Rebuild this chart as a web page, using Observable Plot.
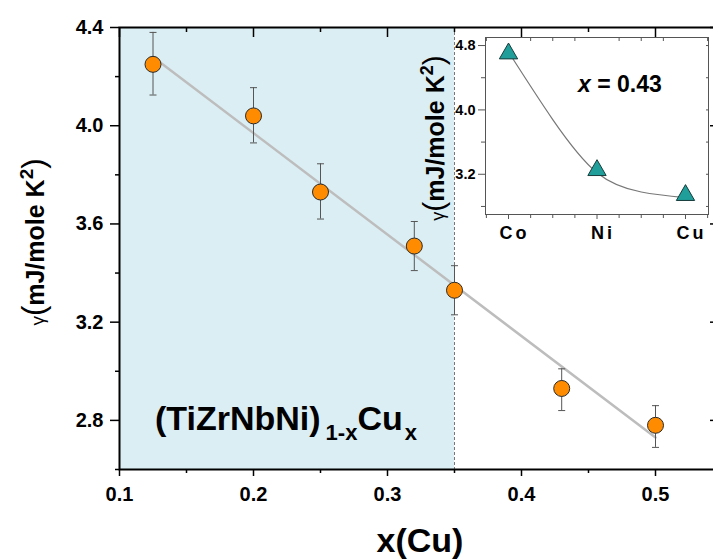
<!DOCTYPE html>
<html><head><meta charset="utf-8">
<script src="https://cdn.jsdelivr.net/npm/d3@7"></script>
<script src="https://cdn.jsdelivr.net/npm/@observablehq/plot@0.6"></script>
<style>
html,body{margin:0;padding:0;background:#fff;overflow:hidden;width:713px;height:560px}
#wrap{position:relative;width:713px;height:560px;overflow:hidden;font-family:"Liberation Sans",Arial,sans-serif}
#main,#inset{position:absolute}
#main{left:0;top:0}
#inset{left:440px;top:20px}
#wrap svg{max-width:none !important}
.lbl{position:absolute;font-weight:bold;white-space:nowrap;color:#000;line-height:1}
#inset g[aria-label="x-axis tick label"] text{letter-spacing:3px}
</style></head><body><div id="wrap"><div id="main"></div><div id="inset"></div>
<div class="lbl" id="ylab" style="left:33px;top:242px;transform:translate(-50%,-50%) rotate(-90deg);font-size:25px"><span style="font-weight:normal;font-size:19px">γ</span><span style="font-weight:normal;font-size:31px">(</span>mJ/mole K<sup style="font-size:19px;vertical-align:11px">2</sup><span style="font-weight:normal;font-size:31px">)</span></div>
<div class="lbl" id="ylab2" style="left:433px;top:138px;transform:translate(-50%,-50%) rotate(-90deg);font-size:25px"><span style="font-weight:normal;font-size:18px">γ</span><span style="font-weight:normal;font-size:30px">(</span>mJ/mole K<sup style="font-size:18px;vertical-align:11px">2</sup><span style="font-weight:normal;font-size:30px">)</span></div>
<div class="lbl" style="left:578px;top:73px;font-size:23px"><i>x</i> = 0.43</div>
<div class="lbl" style="left:155px;top:401px;font-size:34px">(TiZrNbNi)<sub style="font-size:22px;vertical-align:-10px;margin-left:5px">1-x</sub>Cu<sub style="font-size:22px;vertical-align:-10px;margin-left:2px">x</sub></div>
<div class="lbl" style="left:420px;top:523px;transform:translateX(-50%);font-size:34px">x(Cu)</div>
</div>
<script>
// main panel data
const xCu = [0.125, 0.2, 0.25, 0.32, 0.35, 0.43, 0.5];
const gamma = [4.25, 4.04, 3.73, 3.51, 3.33, 2.93, 2.78];
const errLo = [4.125, 3.93, 3.62, 3.41, 3.23, 2.84, 2.69];
const errHi = [4.38, 4.155, 3.845, 3.61, 3.43, 3.01, 2.86];
const fitX = [0.125, 0.5];
const fitY = [4.28, 2.73];
const shadeX = [0.1, 0.35];
const xTicks = [0.1, 0.2, 0.3, 0.4, 0.5];
const xMinor = [0.15, 0.25, 0.35, 0.45, 0.55];
const yTicks = [2.8, 3.2, 3.6, 4.0, 4.4];
const yMinor = [2.6, 3.0, 3.4, 3.8, 4.2];
// inset data
const insetCats = ["Co", "Ni", "Cu"];
const insetPos = [0, 1, 2];
const insetGamma = [4.70, 3.25, 2.94];
const insetCurveX = [0, 0.5, 1, 1.5, 2];
const insetCurveY = [4.72, 3.88, 3.22, 2.98, 2.91];
const insetYTicks = [3.2, 4.0, 4.8];
const insetYMinor = [2.8, 3.6, 4.4];
const insetXMinor = [-0.25, 0.25, 0.5, 0.75, 1.25, 1.5, 1.75, 2.25];

const pts = xCu.map((x, i) => ({x, g: gamma[i], lo: errLo[i], hi: errHi[i]}));
const fit = fitX.map((x, i) => ({x, y: fitY[i]}));
const capSymbol = {draw(ctx, size) { const w = Math.sqrt(size / Math.PI); ctx.moveTo(-w, 0); ctx.lineTo(w, 0); }};
const none = () => "";
const F = "Liberation Sans, Arial, sans-serif";

const main = Plot.plot({
  width: 730, height: 560,
  marginLeft: 119, marginRight: 8, marginTop: 27, marginBottom: 91,
  style: {fontFamily: F, background: "transparent", overflow: "visible", maxWidth: "none"},
  x: {domain: [0.1, 0.55]},
  y: {domain: [2.6, 4.4]},
  marks: [
    Plot.rect([shadeX], {x1: d => d[0], x2: d => d[1], fill: "#dbeef4"}),
    Plot.ruleX([shadeX[1]], {stroke: "#777", strokeDasharray: "3,2", strokeWidth: 1}),
    Plot.line(fit, {x: "x", y: "y", stroke: "#bdbdbd", strokeWidth: 2.5}),
    Plot.ruleX(pts, {x: "x", y1: "lo", y2: "hi", stroke: "#555", strokeWidth: 1}),
    Plot.dot(pts, {x: "x", y: "hi", symbol: capSymbol, r: 3.5, stroke: "#555", strokeWidth: 1}),
    Plot.dot(pts, {x: "x", y: "lo", symbol: capSymbol, r: 3.5, stroke: "#555", strokeWidth: 1}),
    Plot.dot(pts, {x: "x", y: "g", r: 8, fill: "#ff8c00", stroke: "#2a2a2a", strokeWidth: 1}),
    Plot.frame({stroke: "#000", strokeWidth: 2}),
    Plot.axisX(xTicks, {anchor: "bottom", tickSize: 7, tickFormat: none, label: null, strokeWidth: 1.5}),
    Plot.axisX(xMinor, {anchor: "bottom", tickSize: 4, tickFormat: none, label: null, strokeWidth: 1.5}),
    Plot.axisX(xTicks, {anchor: "bottom", tickSize: 0, tickPadding: 17, tickFormat: ".1f", label: null, fontSize: 20, fontWeight: "bold", fill: "#000"}),
    Plot.axisX(xTicks, {anchor: "top", tickSize: -9, tickFormat: none, label: null, strokeWidth: 1.5}),
    Plot.axisX(xMinor, {anchor: "top", tickSize: -4, tickFormat: none, label: null, strokeWidth: 1.5}),
    Plot.axisY(yTicks, {anchor: "left", tickSize: 9, tickFormat: none, label: null, strokeWidth: 1.5}),
    Plot.axisY(yMinor, {anchor: "left", tickSize: 4, tickFormat: none, label: null, strokeWidth: 1.5}),
    Plot.axisY(yTicks, {anchor: "left", tickSize: 0, tickPadding: 16, tickFormat: ".1f", label: null, fontSize: 20, fontWeight: "bold", fill: "#000"}),
    Plot.axisY(yTicks, {anchor: "right", tickSize: -13, tickFormat: none, label: null, strokeWidth: 1.5})
  ]
});
document.getElementById("main").appendChild(main);

const cur = insetCurveX.map((x, i) => ({x, y: insetCurveY[i]}));
const tri = insetPos.map((x, i) => ({x, y: insetGamma[i]}));
const inset = Plot.plot({
  width: 273, height: 230,
  marginLeft: 45, marginRight: 5, marginTop: 17, marginBottom: 36,
  style: {fontFamily: F, background: "transparent", overflow: "visible", maxWidth: "none"},
  x: {domain: [-0.26, 2.26]},
  y: {domain: [2.7, 4.9]},
  marks: [
    Plot.frame({fill: "#fff", stroke: "none"}),
    Plot.line(cur, {x: "x", y: "y", curve: "natural", stroke: "#777", strokeWidth: 1.2}),
    Plot.dot(tri, {x: "x", y: "y", symbol: "triangle", r: 6.8, fill: "#1f9e9a", stroke: "#173c3c", strokeWidth: 1}),
    Plot.frame({stroke: "#555", strokeWidth: 1}),
    Plot.axisX(insetPos, {anchor: "bottom", tickSize: 5, tickFormat: none, label: null, stroke: "#555"}),
    Plot.axisX(insetXMinor, {anchor: "bottom", tickSize: 4, tickFormat: none, label: null, stroke: "#555"}),
    Plot.axisX(insetXMinor, {anchor: "top", tickSize: -3, tickFormat: none, label: null, stroke: "#555"}),
    Plot.axisX(insetPos, {anchor: "bottom", tickSize: 0, tickPadding: 12, dx: 6, tickFormat: i => insetCats[i], label: null, fontSize: 18, fontWeight: "bold", fill: "#000"}),
    Plot.axisY(insetYTicks, {anchor: "left", tickSize: 7, tickFormat: none, label: null, stroke: "#555"}),
    Plot.axisY(insetYMinor, {anchor: "left", tickSize: 4, tickFormat: none, label: null, stroke: "#555"}),
    Plot.axisY(insetYTicks, {anchor: "right", tickSize: -3, tickFormat: none, label: null, stroke: "#555"}),
    Plot.axisY(insetYMinor, {anchor: "right", tickSize: -3, tickFormat: none, label: null, stroke: "#555"}),
    Plot.axisY(insetYTicks, {anchor: "left", tickSize: 0, tickPadding: 10, tickFormat: ".1f", label: null, fontSize: 14.5, fontWeight: "bold", fill: "#000"})
  ]
});
document.getElementById("inset").appendChild(inset);
</script></body></html>
